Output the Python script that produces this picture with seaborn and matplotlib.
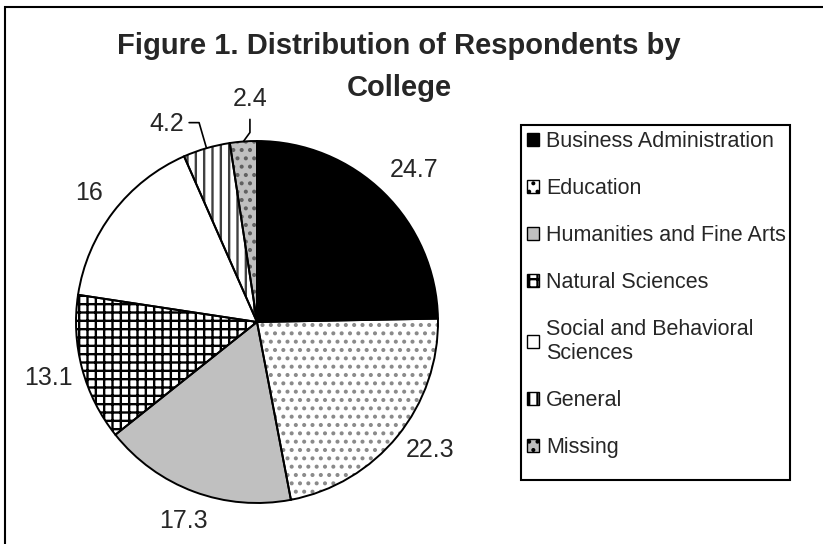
import numpy as np
import seaborn as sns
import matplotlib.pyplot as plt
from matplotlib.patches import Patch, Rectangle

# Data
colleges = ['Business Administration', 'Education', 'Humanities and Fine Arts',
            'Natural Sciences', 'Social and Behavioral\nSciences', 'General', 'Missing']
percent = [24.7, 22.3, 17.3, 13.1, 16, 4.2, 2.4]
value_labels = ['24.7', '22.3', '17.3', '13.1', '16', '4.2', '2.4']
title_lines = ['Figure 1. Distribution of Respondents by', 'College']

# Style per slice (black & white print look)
face_colors = ['black', 'white', '#c0c0c0', 'white', 'white', 'white', '#c0c0c0']
hatches = ['', '..', '', '++', '', '||', '..']
hatch_colors = ['black', '#8a8a8a', '#c0c0c0', 'black', 'white', '#404040', '#606060']
label_dist = [1.21, 1.19, 1.17, 1.19, 1.17, 1.2, 1.23]
label_shift = [-1.5, 2.7, 0, 0, 0, 8.3, -2.5]

sns.set_style('white')
plt.rcParams['font.family'] = ['Liberation Sans', 'DejaVu Sans']
plt.rcParams['hatch.linewidth'] = 1.7

fig = plt.figure(figsize=(8.23, 5.44), dpi=100)
ax = fig.add_axes([76 / 823, 41 / 544, 362 / 823, 362 / 544])

# filled wedges with hatches
wedges, _ = ax.pie(percent, startangle=90, counterclock=False, radius=1,
                   colors=face_colors, hatch=hatches,
                   wedgeprops=dict(linewidth=0))
for w, hc in zip(wedges, hatch_colors):
    w.set_edgecolor(hc)
    w.set_linewidth(0)

# outlines on top
ax.pie(percent, startangle=90, counterclock=False, radius=1,
       wedgeprops=dict(fill=False, edgecolor='black', linewidth=1.4))
ax.set_xlim(-1, 1)
ax.set_ylim(-1, 1)
ax.axis('off')

# value labels
for i, w in enumerate(wedges):
    mid = np.deg2rad((w.theta1 + w.theta2) / 2)
    ang = mid + np.deg2rad(label_shift[i])
    tx, ty = label_dist[i] * np.cos(ang), label_dist[i] * np.sin(ang)
    ax.text(tx, ty, value_labels[i], ha='center', va='center', fontsize=18)
    if i == 5:
        ex, ey = np.cos(mid), np.sin(mid)
        bx, by = 1.147 * ex, 1.147 * ey
        ax.plot([bx - 0.055, bx, ex], [by, by, ey], color='black', lw=1.2, clip_on=False)
    if i == 6:
        ex, ey = np.cos(mid), np.sin(mid)
        ax.plot([tx, tx, ex], [ty - 0.11, 1.05 * ey, ey], color='black', lw=1.2, clip_on=False)

# title (two lines)
fig.text(399 / 823, 1 - 46 / 544, title_lines[0], ha='center', va='center',
         fontsize=21, fontweight='bold')
fig.text(399 / 823, 1 - 88 / 544, title_lines[1], ha='center', va='center',
         fontsize=21, fontweight='bold')

# legend
handles = [Patch(facecolor=fc, edgecolor='black', hatch=h, linewidth=1)
           for fc, h in zip(face_colors, hatches)]
leg = fig.legend(handles, colleges, loc='upper left',
                 bbox_to_anchor=(521 / 823, 1 - 125 / 544), borderaxespad=0,
                 fontsize=15.5, frameon=False, handlelength=0.55, handleheight=0.55,
                 handletextpad=0.3, labelspacing=1.2, borderpad=0.3)
fig.patches.append(Rectangle((521 / 823, 1 - 480 / 544), 269 / 823, 355 / 544,
                             transform=fig.transFigure, fill=False,
                             edgecolor='black', linewidth=1.5))

# outer chart border (only top and left visible)
fig.patches.append(Rectangle((5 / 823, -0.2), 1.2, 0.2 + 1 - 7 / 544, transform=fig.transFigure,
                             fill=False, edgecolor='black', linewidth=1.5))

plt.savefig('out.png', dpi=100)
plt.close()
